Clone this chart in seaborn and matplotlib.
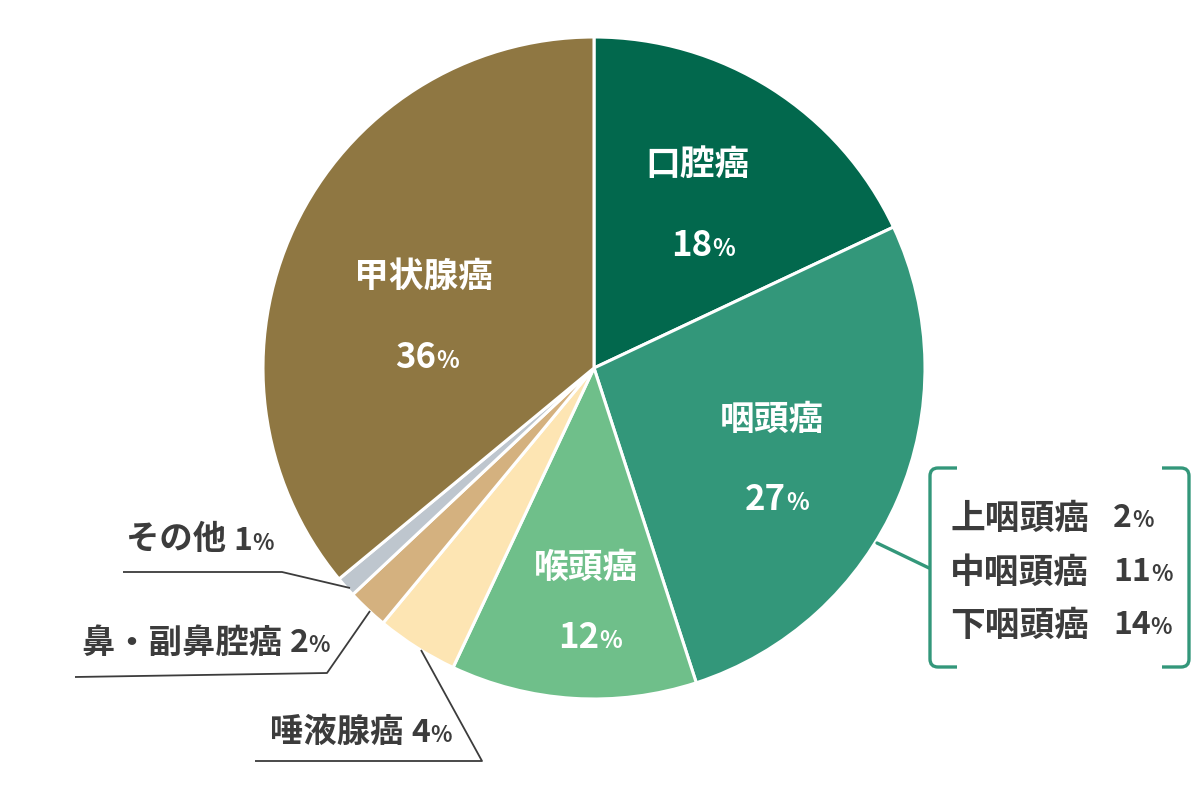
import matplotlib
matplotlib.use("Agg")
import matplotlib.pyplot as plt
import seaborn as sns
from matplotlib.offsetbox import TextArea, HPacker, AnnotationBbox
from matplotlib.path import Path
from matplotlib.patches import PathPatch

# ---- data ----
categories = ["口腔癌", "咽頭癌", "喉頭癌", "唾液腺癌", "鼻・副鼻腔癌", "その他", "甲状腺癌"]
values = [18, 27, 12, 4, 2, 1, 36]
colors = ["#02684D", "#33977A", "#6FBF8A", "#FDE5B3", "#D4B17F", "#BEC6CE", "#8F7742"]
sub_categories = ["上咽頭癌", "中咽頭癌", "下咽頭癌"]
sub_values = [2, 11, 14]

sns.set_theme(style="white")
plt.rcParams["font.family"] = ["Noto Sans CJK JP", "DejaVu Sans"]

W, H = 1200, 800
fig = plt.figure(figsize=(12, 8), dpi=100)
ax = fig.add_axes([0, 0, 1, 1])

def P(x, y):
    """pixel (top-left origin) -> data coords"""
    return (x, H - y)

cx, cy = P(594, 368)
ax.pie(values, colors=colors, startangle=90, counterclock=False,
       center=(cx, cy), radius=331,
       wedgeprops=dict(edgecolor="white", linewidth=2.2))
ax.set_xlim(0, W)
ax.set_ylim(0, H)
ax.set_aspect("equal")
ax.axis("off")

TXT = "#3c3c3c"

def value_box(num, color, size, pct_size):
    a = TextArea(str(num), textprops=dict(color=color, fontsize=size, fontweight="bold"))
    b = TextArea("%", textprops=dict(color=color, fontsize=pct_size, fontweight="bold"))
    return [a, b]

def place(children, xy, align=(0.5, 0.5), sep=0):
    box = HPacker(children=children, align="baseline", pad=0, sep=sep)
    ab = AnnotationBbox(box, xy, frameon=False, box_alignment=align, pad=0)
    ax.add_artist(ab)

# inside labels: (name position, value position) in pixels
inside_pos = {
    "口腔癌": ((697, 164), (703, 245)),
    "咽頭癌": ((772, 419), (777, 500)),
    "喉頭癌": ((586, 567), (590, 637)),
    "甲状腺癌": ((424, 276), (427, 358)),
}
for cat, val in zip(categories, values):
    if cat in inside_pos:
        (nx, ny), (vx, vy) = inside_pos[cat]
        ax.text(*P(nx, ny), cat, color="white", fontsize=25, fontweight="bold",
                ha="center", va="center")
        place(value_box(val, "white", 25, 17), P(vx, vy))

# outside labels with leader lines
outside = {
    "その他": dict(text=(126, 540), line=[(123, 572), (282, 572), (350, 588)]),
    "鼻・副鼻腔癌": dict(text=(82, 643), line=[(75, 677), (327, 673), (370, 611)]),
    "唾液腺癌": dict(text=(270, 732), line=[(255, 761), (482, 761), (421, 650)]),
}
for cat, val in zip(categories, values):
    if cat in outside:
        o = outside[cat]
        name = TextArea(cat + " ", textprops=dict(color=TXT, fontsize=24, fontweight="bold"))
        num = value_box(val, TXT, 23, 16)
        place([name] + num, P(*o["text"]), align=(0, 0.5), sep=0)
        xs = [p[0] for p in o["line"]]
        ys = [H - p[1] for p in o["line"]]
        ax.plot(xs, ys, color="#3c3c3c", lw=1.3, solid_capstyle="butt")

# bracket for pharynx sub-types
GREEN = "#33977A"
ax.plot([877, 929], [H - 543, H - 568], color=GREEN, lw=2.4)

def bracket(x_edge, x_tip, y_top, y_bot, r=8):
    s = 1 if x_tip > x_edge else -1
    verts = [
        (x_tip, H - y_top),
        (x_edge + s * r, H - y_top),
        (x_edge, H - y_top),
        (x_edge, H - y_top - r),
        (x_edge, H - y_bot + r),
        (x_edge, H - y_bot),
        (x_edge + s * r, H - y_bot),
        (x_tip, H - y_bot),
    ]
    codes = [Path.MOVETO, Path.LINETO, Path.CURVE3, Path.CURVE3,
             Path.LINETO, Path.CURVE3, Path.CURVE3, Path.LINETO]
    ax.add_patch(PathPatch(Path(verts, codes), fill=False, edgecolor=GREEN, lw=2.4))

bracket(930, 957, 468, 667)
bracket(1189, 1162, 468, 667)

sub_y = [518, 572, 625]
for cat, val, y in zip(sub_categories, sub_values, sub_y):
    ax.text(*P(950, y), cat, color=TXT, fontsize=25, fontweight="bold",
            ha="left", va="center")
    place(value_box(val, TXT, 23, 16), P(1113, y), align=(0, 0.5))

fig.savefig("out.png", dpi=100, facecolor="white")
